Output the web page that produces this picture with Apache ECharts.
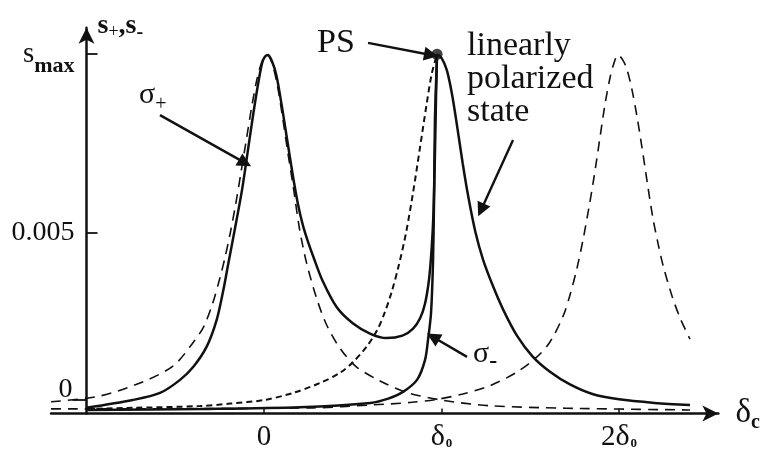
<!DOCTYPE html>
<html>
<head>
<meta charset="utf-8">
<script src="https://cdn.jsdelivr.net/npm/echarts@6/dist/echarts.min.js"></script>
<style>
  html, body { margin: 0; padding: 0; background: #fff; }
  #chart { width: 765px; height: 453px; }
</style>
</head>
<body>
<div id="chart"></div>
<script>
// x in units of delta_0, s in units of 1e-3
var sigmaPlusLorentz = [
    [-1.2, 0.23], [-0.92, 0.4], [-0.68, 0.8], [-0.51, 1.25], [-0.40, 1.9], [-0.34, 2.35],
    [-0.29, 3.0], [-0.25, 3.7], [-0.22, 4.3], [-0.19, 5.0], [-0.16, 5.8], [-0.13, 6.7],
    [-0.10, 7.62], [-0.07, 8.54], [-0.04, 9.34], [-0.01, 9.86], [0.017, 10.03], [0.045, 9.8],
    [0.075, 9.18], [0.105, 8.26], [0.135, 7.25], [0.165, 6.3], [0.2, 5.12], [0.24, 4.15],
    [0.3, 3.1], [0.355, 2.38], [0.43, 1.73], [0.52, 1.22], [0.65, 0.83], [0.8, 0.5],
    [1.0, 0.28], [1.27, 0.12], [1.7, 0.05], [2.4, 0.0]
];
var sigmaMinusLorentz = [
    [-1.2, 0.03], [0.28, 0.06], [0.6, 0.14], [0.82, 0.21], [0.975, 0.3], [1.12, 0.45],
    [1.27, 0.68], [1.425, 1.07], [1.538, 1.5], [1.611, 1.92], [1.685, 2.65], [1.724, 3.25],
    [1.763, 4.0], [1.797, 4.8], [1.83, 5.7], [1.86, 6.6], [1.89, 7.6], [1.92, 8.6],
    [1.95, 9.4], [1.975, 9.85], [1.994, 10.03], [2.02, 9.9], [2.045, 9.62], [2.073, 9.05],
    [2.101, 8.3], [2.13, 7.4], [2.16, 6.4], [2.19, 5.45], [2.22, 4.7], [2.25, 4.05],
    [2.3, 3.2], [2.344, 2.6], [2.4, 2.0]
];
var shortDashed = [
    [-1.0, 0.03], [-0.74, 0.06], [-0.36, 0.11], [-0.19, 0.18], [0.0, 0.28], [0.163, 0.48],
    [0.315, 0.76], [0.428, 1.05], [0.501, 1.35], [0.58, 1.8], [0.637, 2.25], [0.68, 2.75],
    [0.72, 3.35], [0.76, 4.1], [0.8, 5.0], [0.84, 6.15], [0.88, 7.45], [0.915, 8.6],
    [0.945, 9.5], [0.975, 10.05]
];
var sPlus = [
    [-1.0, 0.06], [-0.74, 0.28], [-0.586, 0.48], [-0.473, 0.85], [-0.398, 1.22], [-0.323, 1.79],
    [-0.267, 2.54], [-0.229, 3.39], [-0.201, 4.14], [-0.163, 5.14], [-0.124, 6.21], [-0.096, 7.15],
    [-0.068, 8.11], [-0.039, 9.04], [-0.011, 9.8], [0.005, 9.98], [0.023, 10.03], [0.045, 9.85],
    [0.07, 9.45], [0.1, 8.6], [0.13, 7.65], [0.16, 6.7], [0.19, 5.85], [0.22, 5.2],
    [0.25, 4.72], [0.28, 4.3], [0.33, 3.65], [0.41, 2.9], [0.5, 2.45], [0.6, 2.15],
    [0.69, 2.03], [0.78, 2.1], [0.84, 2.3], [0.88, 2.6], [0.907, 3.0], [0.93, 3.7],
    [0.945, 4.6], [0.955, 5.6], [0.963, 7.2], [0.969, 8.8], [0.975, 10.05]
];
var sMinus = [
    [-1.0, 0.0], [-0.36, 0.03], [0.2, 0.08], [0.6, 0.2], [0.7, 0.32], [0.783, 0.51],
    [0.862, 0.85], [0.907, 1.41], [0.924, 1.98], [0.941, 2.74], [0.952, 4.15], [0.958, 5.93],
    [0.963, 8.19], [0.975, 10.05]
];
var linearState = [
    [0.975, 10.05], [1.0, 9.95], [1.03, 9.6], [1.06, 8.9], [1.09, 7.95], [1.12, 6.95],
    [1.15, 6.05], [1.19, 5.05], [1.234, 4.25], [1.29, 3.5], [1.346, 2.85], [1.425, 2.1],
    [1.515, 1.5], [1.611, 1.08], [1.724, 0.72], [1.85, 0.45], [2.0, 0.3], [2.2, 0.2],
    [2.4, 0.14]
];
var psPoint = [[0.975, 10.05]];

var yTickValues = [0.28, 5, 10.05];
var yTickLabels = ['0', '0.005', 's_max'];
var xTickValues = [0, 1, 2];
var xTickLabels = ['0', 'δ0', '2δ0'];

// annotation arrows: [from, to]
var arrowSigmaPlus = [[-0.586, 8.33], [-0.107, 6.98]];
var arrowPS = [[0.586, 10.37], [0.941, 10.03]];
var arrowLinear = [[1.403, 7.63], [1.223, 5.65]];
var arrowSigmaMinus = [[1.144, 1.5], [0.952, 2.06]];

var serif = 'Liberation Serif';
var ink = '#111';

var chart = echarts.init(document.getElementById('chart'));

function xLabel(v) {
    var t = xTickLabels[xTickValues.indexOf(v)];
    if (t === '0') return '{n|0}';
    if (t === 'δ0') return '{d|δ}{s|0}';
    return '{n|2}{d|δ}{s|0}';
}

function yLabel(v) {
    var t = yTickLabels[yTickValues.indexOf(v)];
    if (t === 's_max') return '{s|s}{m|max}';
    return '{n|' + t + '}';
}

var longDash = { color: ink, width: 1.6, type: [10, 7] };
var yRich = {
    n: { fontFamily: serif, fontSize: 28, color: ink },
    s: { fontFamily: serif, fontSize: 29, color: ink },
    m: { fontFamily: serif, fontSize: 22, fontWeight: 'bold', color: ink, padding: [24, 0, 0, 0] }
};

function arrowLine(a) {
    return [{ coord: a[0] }, { coord: a[1] }];
}

function curve(name, data, lineStyle) {
    return {
        name: name,
        type: 'line',
        data: data,
        showSymbol: false,
        smooth: 0.3,
        lineStyle: lineStyle
    };
}

var solid = { color: ink, width: 2.5 };

var plusSeries = curve('sigma+ Lorentzian', sigmaPlusLorentz, longDash);
plusSeries.markLine = {
    silent: true,
    symbol: ['none', 'triangle'],
    symbolSize: 14,
    label: { show: false },
    lineStyle: { color: ink, width: 2.4, type: 'solid' },
    data: [arrowLine(arrowSigmaPlus), arrowLine(arrowPS), arrowLine(arrowLinear), arrowLine(arrowSigmaMinus)]
};

var option = {
    animation: false,
    grid: { left: 51, right: 46.6, top: 27.7, bottom: 39.5, containLabel: false, outerBoundsMode: 'none' },
    xAxis: {
        type: 'value',
        min: -1.2,
        max: 2.56,
        name: '{d|δ}{c|c}',
        nameLocation: 'end',
        nameGap: 17,
        nameTextStyle: {
            rich: {
                d: { fontFamily: serif, fontSize: 33, color: ink },
                c: { fontFamily: serif, fontSize: 20, fontWeight: 'bold', color: ink, padding: [18, 0, 0, 0] }
            }
        },
        axisLine: { onZero: false, lineStyle: { color: ink, width: 2.5 }, symbol: ['none', 'arrow'], symbolSize: [12, 16] },
        axisTick: { inside: true, length: 5, lineStyle: { color: ink, width: 1.5 }, customValues: xTickValues },
        axisLabel: {
            customValues: xTickValues,
            margin: 9,
            formatter: xLabel,
            rich: {
                n: { fontFamily: serif, fontSize: 29, color: ink },
                d: { fontFamily: serif, fontSize: 30, color: ink },
                s: { fontFamily: serif, fontSize: 13, fontWeight: 'bold', color: ink, padding: [12, 0, 0, 1] }
            }
        },
        splitLine: { show: false }
    },
    yAxis: [
        {
            type: 'value',
            position: 'left',
            min: -0.1,
            max: 10.8,
            offset: -35.5,
            name: '{a|s}{b|+}{a|,s}{c|-}',
            nameLocation: 'end',
            nameGap: 2,
            nameTextStyle: {
                align: 'left',
                verticalAlign: 'middle',
                padding: [0, 0, 0, 11],
                rich: {
                    a: { fontFamily: serif, fontSize: 28, fontWeight: 'bold', color: ink },
                    b: { fontFamily: serif, fontSize: 18, color: ink, padding: [14, 0, 0, 0] },
                    c: { fontFamily: serif, fontSize: 20, fontWeight: 'bold', color: ink, padding: [14, 0, 0, 0] }
                }
            },
            axisLine: { show: true, onZero: false, lineStyle: { color: ink, width: 2.5 }, symbol: ['none', 'arrow'], symbolSize: [12, 16] },
            axisTick: { show: true, inside: true, length: 11, lineStyle: { color: ink, width: 1.8 }, customValues: yTickValues.slice(1) },
            axisLabel: {
                customValues: yTickValues.slice(1),
                margin: 12,
                formatter: yLabel,
                rich: yRich
            },
            splitLine: { show: false }
        },
        {
            type: 'value',
            position: 'left',
            min: -0.1,
            max: 10.8,
            offset: -35.5,
            axisLine: { show: false, onZero: false },
            axisTick: { show: true, inside: false, length: 14, lineStyle: { color: ink, width: 1.8 }, customValues: yTickValues.slice(0, 1) },
            axisLabel: {
                customValues: yTickValues.slice(0, 1),
                margin: 14,
                verticalAlign: 'bottom',
                lineHeight: 20,
                formatter: yLabel,
                rich: yRich
            },
            splitLine: { show: false }
        }
    ],
    series: [
        plusSeries,
        curve('sigma- Lorentzian', sigmaMinusLorentz, longDash),
        curve('short dashed', shortDashed, { color: ink, width: 2, type: [6, 4] }),
        curve('s+', sPlus, solid),
        curve('s-', sMinus, solid),
        curve('linearly polarized', linearState, solid),
        {
            name: 'PS',
            type: 'scatter',
            data: psPoint,
            symbolSize: 11,
            itemStyle: { color: ink }
        }
    ],
    graphic: [
        {
            type: 'text', left: 139, top: 80,
            style: {
                text: '{a|σ}{b|+}',
                rich: {
                    a: { fontFamily: serif, fontSize: 30, fill: ink },
                    b: { fontFamily: serif, fontSize: 20, fill: ink, padding: [20, 0, 0, 0] }
                }
            }
        },
        {
            type: 'text', left: 473, top: 339,
            style: {
                text: '{a|σ}{b|-}',
                rich: {
                    a: { fontFamily: serif, fontSize: 30, fill: ink },
                    b: { fontFamily: serif, fontSize: 24, fontWeight: 'bold', fill: ink, padding: [16, 0, 0, 0] }
                }
            }
        },
        {
            type: 'text', left: 317, top: 26.5,
            style: { text: 'PS', font: '34px "Liberation Serif"', fill: ink }
        },
        {
            type: 'text', left: 467, top: 29,
            style: { text: 'linearly\npolarized\nstate', font: '34px "Liberation Serif"', lineHeight: 33, fill: ink }
        }
    ]
};

option && chart.setOption(option);
</script>
</body>
</html>
